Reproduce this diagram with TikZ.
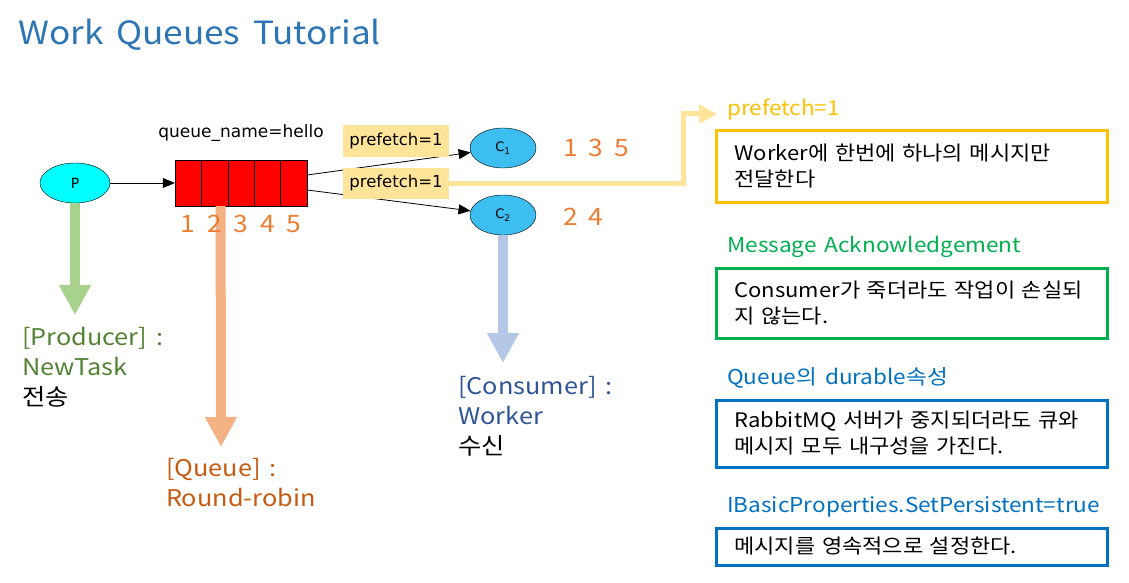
\documentclass[tikz,border=0pt]{standalone}
\usepackage{fontspec}
\setmainfont[FakeStretch=1.1, WordSpace=1.6]{Noto Sans CJK KR}
\newfontfamily\gvfont{DejaVu Sans}
\usetikzlibrary{arrows.meta,positioning,shapes.geometric}

\definecolor{titleblue}{RGB}{46,117,182}
\definecolor{prodcyan}{RGB}{0,255,255}
\definecolor{consblue}{RGB}{60,190,240}
\definecolor{pfyellow}{RGB}{255,228,153}
\definecolor{numorange}{RGB}{237,125,49}
\definecolor{gold}{RGB}{255,192,0}
\definecolor{ackgreen}{RGB}{0,176,80}
\definecolor{durblue}{RGB}{0,112,192}
\definecolor{prodgreen}{RGB}{169,209,142}
\definecolor{queueorange}{RGB}{244,177,131}
\definecolor{conslight}{RGB}{180,199,231}
\definecolor{prodtext}{RGB}{84,130,53}
\definecolor{queuetext}{RGB}{197,90,17}
\definecolor{constext}{RGB}{47,85,151}

\begin{document}
\begin{tikzpicture}[x=1pt, y=-1pt,
    prodnode/.style={ellipse, draw, fill=prodcyan, minimum width=70pt, minimum height=40pt, font=\gvfont\fontsize{14}{14}\selectfont},
    consnode/.style={ellipse, draw, fill=consblue, minimum width=66pt, minimum height=40pt, font=\gvfont\fontsize{13}{13}\selectfont},
    cell/.style={rectangle, draw, fill=red, minimum width=26.4pt, minimum height=46pt, inner sep=0pt},
    pflabel/.style={fill=pfyellow, minimum width=106pt, minimum height=31pt, inner sep=0pt, font=\gvfont\fontsize{16.5}{16.5}\selectfont},
    edge/.style={-{Triangle[length=12pt,width=10pt]}, line width=0.8pt},
    bigarrow/.style={line width=10pt, -{Triangle[length=30pt,width=30pt]}},
    pfline/.style={line width=5pt, pfyellow, -{Triangle[length=18pt,width=18pt]}},
    heading/.style={anchor=base west, inner sep=0pt, font=\fontsize{20.5}{20.5}\selectfont},
    infobox/.style={draw, line width=3pt, minimum width=391pt, minimum height=#1, inner xsep=18pt, text width=355pt, align=left, font=\fontsize{20}{26}\selectfont},
    num/.style={text=numorange, inner sep=0pt, font=\fontsize{24}{24}\selectfont},
    role/.style={anchor=north west, inner sep=0pt, align=left, font=\fontsize{23}{30}\selectfont}
]
    \useasboundingbox (0,0) rectangle (1129,583);

    % Title
    \node[anchor=base west, inner sep=0pt, text=titleblue, font=\fontsize{32}{32}\selectfont] (title) at (18,45) {Work Queues Tutorial};

    % Producer and queue
    \node[prodnode] (p) at (75,183) {P};
    \foreach \i in {1,...,5}
        \node[cell] (q\i) at ({175+26.4*(\i-0.5)},183) {};
    \node[inner sep=0pt, font=\gvfont\fontsize{17}{17}\selectfont] (qname) at (241,133) {queue\_name=hello};

    % Consumers
    \node[consnode] (c1) at (503,148) {C\textsubscript{1}};
    \node[consnode] (c2) at (503,215) {C\textsubscript{2}};

    % Edges
    \draw[edge] (p) -- (q1);
    \draw[edge] ([yshift=8pt]q5.east) -- (c1);
    \draw[edge] ([yshift=-7pt]q5.east) -- (c2);

    % Prefetch labels
    \node[pflabel] (pf1) at (396,141) {prefetch=1};
    \node[pflabel] (pf2) at (396,183) {prefetch=1};

    % Big role arrows
    \coordinate (prodtip) at (75,315);
    \coordinate (queuetip) at (221,447);
    \coordinate (constip) at (503,363);
    \draw[bigarrow, prodgreen] (p.south) -- (prodtip);
    \draw[bigarrow, queueorange] ([xshift=6pt]q2.south) -- (queuetip);
    \draw[bigarrow, conslight] (c2.south) -- (constip);

    % Message numbers
    \foreach \i in {1,...,5}
        \node[num] (n\i) at ([yshift=-18pt]q\i.south) {\i};
    \node[num, anchor=west] (c1msg) at (563,148) {1\hspace{11pt}3\hspace{11pt}5};
    \node[num, anchor=west] (c2msg) at (563,217) {2\hspace{11pt}4};

    % Role labels
    \node[role] (prodlabel) at (22,327) {\textcolor{prodtext}{[Producer] :}\\\textcolor{prodtext}{NewTask}\\전송};
    \node[role] (queuelabel) at (166,458) {\textcolor{queuetext}{[Queue] :}\\\textcolor{queuetext}{Round-robin}};
    \node[role] (conslabel) at (458,376) {\textcolor{constext}{[Consumer] :}\\\textcolor{constext}{Worker}\\수신};

    % Notes
    \node[heading, text=gold] (pfhead) at (727,116) {prefetch=1};
    \coordinate (bend) at (683,114);
    \draw[pfline] (pf2.east) -- (pf2.east -| bend) |- ([xshift=-10pt,yshift=2pt]pfhead.base west);
    \node[infobox=71pt, gold] (pfbox) at (912,166.5) {\textcolor{black}{Worker에 한번에 하나의 메시지만\\전달한다}};

    \node[heading, text=ackgreen] (ackhead) at (727,252) {Message Acknowledgement};
    \node[infobox=70pt, ackgreen] (ackbox) at (912,303) {\textcolor{black}{\mbox{Consumer가 죽더라도 작업이 손실되}\\지 않는다.}};

    \node[heading, text=durblue] (durhead) at (727,384) {Queue의 durable속성};
    \node[infobox=67pt, durblue] (durbox) at (912,433.5) {\textcolor{black}{RabbitMQ 서버가 중지되더라도 큐와\\메시지 모두 내구성을 가진다.}};

    \node[heading, text=durblue] (pershead) at (727,512) {IBasicProperties.SetPersistent=true};
    \node[infobox=37pt, durblue] (persbox) at (912,546.5) {\textcolor{black}{메시지를 영속적으로 설정한다.}};
\end{tikzpicture}
\end{document}
